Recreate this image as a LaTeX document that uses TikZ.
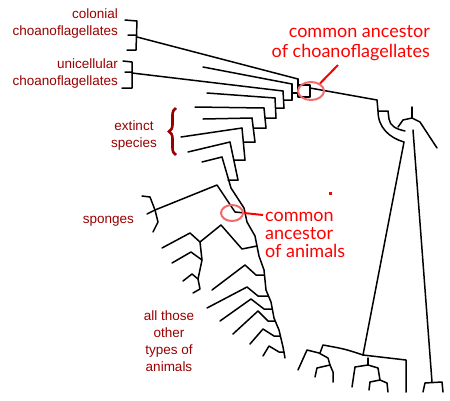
\documentclass[tikz,border=0pt]{standalone}
\usepackage{fontspec}
\setmainfont{Liberation Sans}
\newfontfamily\callfont{Lato}
\usepackage{tikz}
\usetikzlibrary{shapes.geometric,decorations.pathreplacing}
\definecolor{labred}{HTML}{990000}
\definecolor{callred}{HTML}{FF0000}
\definecolor{ringred}{HTML}{F06C6C}

\tikzset{
  branch/.style={line width=1.5pt, line join=round, line cap=round},
  grouplabel/.style={text=labred, font=\fontsize{13.5}{17}\selectfont, inner sep=0pt},
  calllabel/.style={text=callred, font=\callfont\fontsize{18}{20}\selectfont, inner sep=0pt},
  ring/.style={draw=ringred, line width=2pt, ellipse, inner sep=0pt},
  pointer/.style={draw=callred, line width=2pt},
}

\begin{document}
\begin{tikzpicture}[x=1pt, y=-1pt]
	\useasboundingbox (0,0) rectangle (450,400);

	% choanoflagellates and the extinct species, leaf lines
	\foreach \tx/\ty/\cx/\cy in {137/37/298/79, 203/67/292/84, 132/73/283/91, 207/93/275/98,
			195/107/264/108, 203/119/252/118, 181/137/242/128, 188/152/230/142, 202/162/222/157}
		\draw[branch] (\tx,\ty) -- (\cx,\cy);
	% bars of the ladder and their stubs
	\foreach \cx/\cy/\bx/\by/\sx/\sy/\ex in {292/84/292/100/292/93/298, 283/91/284/108/283.5/100/292,
			275/98/276/118/275.5/108/284, 264/108/266/128/265/118/276, 252/118/255/142/253.5/128/266,
			242/128/245/160/243.5/142/255, 230/142/238/180/234/160/245, 222/157/231/188/228/180/238}
		\draw[branch] (\cx,\cy) -- (\bx,\by) (\sx,\sy) -- (\ex,\sy);
	\draw[branch] (298,79) -- (298,85) -- (310,85) -- (310,97) -- (298,97) -- cycle;
	% little trees at the tips
	\draw[branch] (125,20) -- (137,21) -- (136,50) -- (127,50) (128,35) -- (137,35);
	\draw[branch] (123,61) -- (132,62) -- (132,88) -- (122,88) (125,72) -- (132,72);

	% root and the right hand groups
	\draw[branch] (310,88) -- (377,100) -- (378,111) -- (388,111) -- (389,119)
		.. controls (390,126) and (396,129) .. (405,131);
	\draw[branch] (378,111) .. controls (378,128) and (390,138) .. (404,142);
	\draw[branch] (398,127) -- (403,120) -- (412,118) -- (420,122) -- (437,148);
	\draw[branch] (412,107) -- (412,118);
	\draw[branch] (404,142) -- (363,355);
	\draw[branch] (413,130) -- (432,382);
	\draw[branch] (423,392) -- (425,383) -- (442,382) -- (443,392);
	\draw[branch] (363,355) .. controls (345,349) .. (323,345) -- (320,353);
	\draw[branch] (363,355) .. controls (385,358) .. (406,360) -- (406,392);
	\draw[branch] (298,370) -- (307,350) -- (319,353) -- (328,358) -- (330,365) -- (333,372) -- (333,382);
	\draw[branch] (315,377) -- (317,368) -- (330,365);
	\draw[branch] (368,358) -- (368,365);
	\draw[branch] (352,387) -- (355,367) -- (368,365) -- (378,368) -- (380,380) -- (387,383) -- (388,392);
	\draw[branch] (369,390) -- (370,382) -- (380,380);

	% animals
	\draw[branch] (231,188) -- (244,208) -- (247,222) -- (255,236) -- (259,256) -- (264,270) -- (266,290)
		-- (271,302) -- (274,318) -- (279,330) -- (283,347) -- (285,358);
	\draw[branch] (155,210) -- (217,185) -- (235,212) -- (245,213);
	\draw[branch] (142,196) -- (150,197) -- (155,210) -- (158,222) -- (153,232);
	\draw[branch] (147,214) -- (155,210);
	\draw[branch] (200,242) -- (221,225) -- (242,249) -- (257,246);
	\draw[branch] (200,242) -- (202,260) -- (198,279) -- (200,289) -- (193,293);
	\draw[branch] (162,248) -- (190,233) -- (200,242);
	\draw[branch] (172,263) -- (191,252) -- (202,260);
	\draw[branch] (183,281) -- (192,274) -- (198,279);
	\foreach \tx/\ty/\px/\py/\bx/\by/\ex in {212/290/245/265/256/275/264, 207/308/247/287/258/296/268,
			220/321/251/299/264/309/272, 233/334/258/311/268/321/275, 250/344/263/329/274/336/280,
			263/356/269/346/279/352/284}
		\draw[branch] (\tx,\ty) -- (\px,\py) -- (\bx,\by) -- (\ex,\by);

	% labels
	\node[grouplabel, align=right, anchor=east] (colonial) at (118,24) {colonial\\choanoflagellates};
	\node[grouplabel, align=right, anchor=east] (unicell) at (118,74) {unicellular\\choanoflagellates};
	\node[grouplabel, align=center] (extinct) at (134,136) {extinct\\species};
	\node[grouplabel, anchor=east] (sponges) at (134,221) {sponges};
	\node[grouplabel, align=center] (others) at (169,341) {all those\\other\\types of\\animals};
	\draw[labred, line width=2.6pt, decorate, decoration={brace, amplitude=7pt}] (176,155) -- (176,108);

	% common ancestors
	\node[ring, minimum width=26pt, minimum height=18pt] (choanoring) at (311,91) {};
	\node[ring, minimum width=22pt, minimum height=16pt] (animalring) at (232,213) {};
	\node[calllabel, align=right, anchor=east] (choanoanc) at (430,43) {common ancestor\\of choanoflagellates};
	\node[calllabel, align=left, anchor=west, font=\callfont\fontsize{18}{18}\selectfont] (animalanc) at (265,235) {common\\ancestor\\of animals};
	\coordinate (choanotip) at (338,65);
	\coordinate (animaltip) at (263,215);
	\draw[pointer] (choanoring.40) -- (choanotip);
	\draw[pointer] (animalring.east) -- (animaltip);
	\fill[callred] (329,192) rectangle (331.5,194.5);
\end{tikzpicture}
\end{document}
